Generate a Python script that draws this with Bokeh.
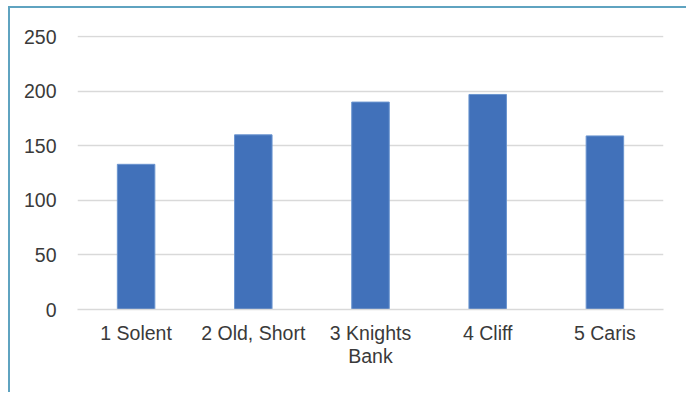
from bokeh.plotting import figure
from bokeh.models import Range1d, ColumnDataSource, LinearAxis, SingleIntervalTicker, FixedTicker
from bokeh.embed import file_html
from bokeh.resources import INLINE

# Sites and their counts
categories = ["1 Solent", "2 Old, Short", "3 Knights Bank", "4 Cliff", "5 Caris"]
values = [133, 160, 190, 197, 159]
# tick labels as they wrap under each bar (first line, second line)
tick_labels = [("1 Solent", ""), ("2 Old, Short", ""), ("3 Knights", "Bank"),
               ("4 Cliff", ""), ("5 Caris", "")]

FONT = "'Liberation Sans', Arial, sans-serif"
TEXT = "#3a3a3a"
EDGE = "#5fa3c0"

pos = list(range(len(categories)))
source = ColumnDataSource(data=dict(x=pos, val=values, cat=categories))

p = figure(
    width=678, height=386,
    x_range=Range1d(-0.5, len(categories) - 0.5),
    y_range=Range1d(0, 251),
    output_backend="svg", toolbar_location=None, tools="",
    min_border_left=67, min_border_right=25,
    min_border_top=27, min_border_bottom=85,
    styles={
        "margin-left": "8px", "margin-top": "6px",
        "border-left": f"2px solid {EDGE}", "border-top": f"2px solid {EDGE}",
    },
)

p.vbar(x="x", top="val", width=0.32, source=source,
       fill_color="#4171ba", line_color="#6a94cf", line_width=1)

p.outline_line_color = None
p.background_fill_color = "white"
p.border_fill_color = "white"

# Grid
p.xgrid.grid_line_color = None
p.ygrid.grid_line_color = "#d9d9d9"
p.ygrid.grid_line_width = 1.5
p.yaxis.ticker = SingleIntervalTicker(interval=50)

# Second row of category text, for names that wrap
line2_axis = LinearAxis(
    ticker=FixedTicker(ticks=pos),
    major_label_overrides={i: (t[1] or " ") for i, t in zip(pos, tick_labels)},
)
p.add_layout(line2_axis, "below")

# Axes
for ax in (p.xaxis[0], line2_axis, p.yaxis[0]):
    ax.axis_line_color = None
    ax.major_tick_line_color = None
    ax.minor_tick_line_color = None
    ax.major_tick_out = 0
    ax.major_tick_in = 0
    ax.major_label_text_font = FONT
    ax.major_label_text_font_size = "19.5px"
    ax.major_label_text_color = TEXT

p.xaxis[0].axis_line_color = "#d9d9d9"
p.xaxis[0].axis_line_width = 1.5
p.xaxis[0].ticker = FixedTicker(ticks=pos)
p.xaxis[0].major_label_overrides = {i: t[0] for i, t in zip(pos, tick_labels)}
p.xaxis[0].major_label_standoff = 12
line2_axis.major_label_standoff = -2
p.yaxis[0].major_label_standoff = 17

open("out.html", "w").write(file_html(p, INLINE))
